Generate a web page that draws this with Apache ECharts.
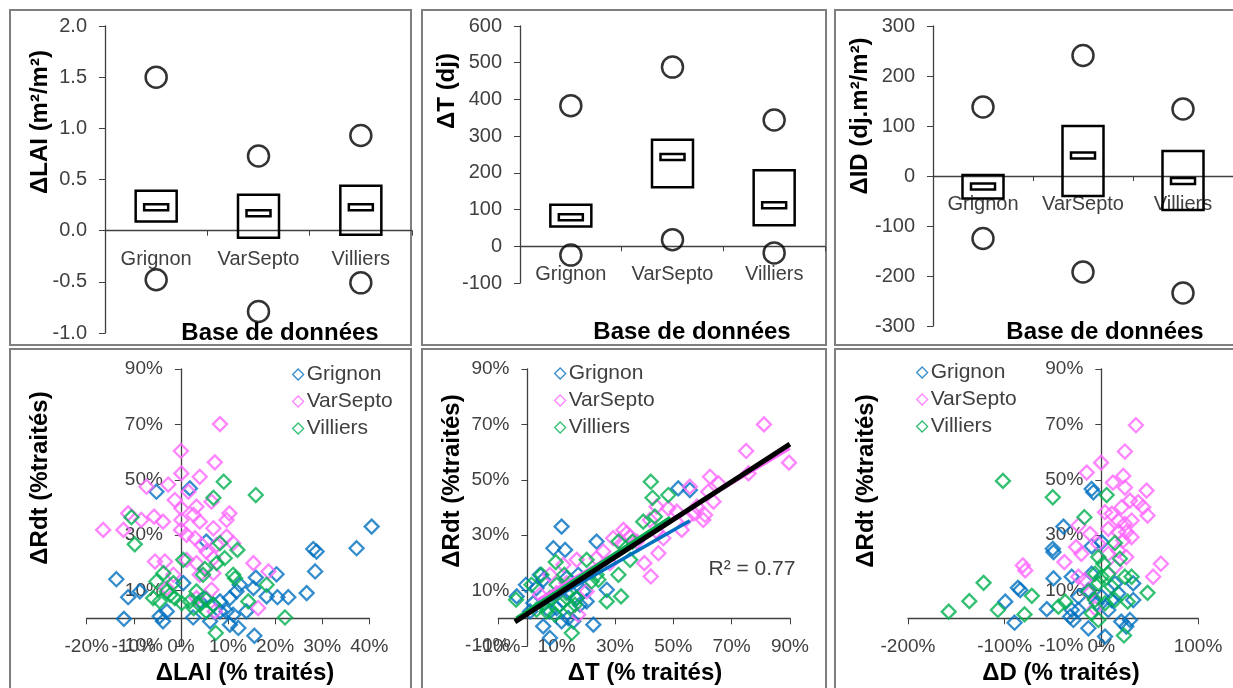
<!DOCTYPE html>
<html><head><meta charset="utf-8">
<script src="https://cdn.jsdelivr.net/npm/echarts@6/dist/echarts.min.js"></script>
<style>html,body{margin:0;padding:0;background:#fff}#c{width:1233px;height:688px}</style>
</head><body><div id="c"></div>
<script>
// ---------- data ----------
const categories = ['Grignon', 'VarSepto', 'Villiers'];
// ΔLAI (m²/m²)
const laiQ1 = [0.09, -0.07, -0.04];
const laiQ3 = [0.39, 0.35, 0.44];
const laiMed = [0.23, 0.17, 0.23];
const laiHigh = [1.50, 0.73, 0.93];
const laiLow = [-0.48, -0.79, -0.51];
// ΔT (dj)
const tQ1 = [54, 161, 57];
const tQ3 = [113, 290, 207];
const tMed = [79, 243, 112];
const tHigh = [383, 488, 344];
const tLow = [-24, 18, -18];
// ΔID (dj.m²/m²)
const idQ1 = [-45, -40, -68];
const idQ3 = [2, 100, 50];
const idMed = [-21, 41, -10];
const idHigh = [138, 241, 134];
const idLow = [-125, -192, -234];

// ΔLAI (%) vs ΔRdt (%)
const laiGrignon = [[40.5,33.1],[37.3,25.3],[28.1,25],[28.8,24.1],[28.5,16.9],[26.7,9.1],[22.8,7.6],[20.5,7.6],[20.3,15.9],[15.9,14.7],[15.4,10.9],[18.2,7.9],[12.5,12.1],[11.8,9.7],[10.4,7.3],[8.3,6.1],[5.1,7.3],[4,6.1],[6.9,4.9],[9.7,2.5],[11.1,1.3],[6.2,-1.1],[10.4,-2.3],[12.2,-3.5],[15.6,-6.3],[2.6,0.3],[-3.8,-1.1],[-4.5,0.7],[-12.1,-0.2],[-13.7,14.1],[-11.2,7.6],[-8.7,9.7],[-5.2,45.7],[1.9,46.9],[5.4,27.7],[0.5,12.7],[-3,2.5],[13.9,2.5],[8.3,2.5]];
const laiVarSepto = [[8.3,70.1],[0,60.4],[7.2,56.3],[0.1,52.3],[4,51.1],[-7.3,47.5],[-2.7,48.3],[1.6,45.7],[-1.3,42.7],[0.1,39.7],[3.3,40.3],[6.5,42.1],[-11.2,37.9],[-8.4,35.5],[-5.7,36.7],[-3.8,34.9],[0.1,35.5],[2.7,37.3],[4,34.9],[6.9,32.5],[10.3,37.9],[9.7,35.5],[-16.5,31.9],[-12.2,31.9],[0,31.9],[1.2,30.1],[3,28.9],[4.4,26.5],[5.4,24.1],[7.6,26.5],[9.7,29.5],[11.1,27.1],[-5.5,20.5],[-3.4,20.5],[1.2,21.1],[3.3,19.9],[6.9,21.7],[15.4,19.9],[18.6,16.9],[-1.6,15.7],[4,15.7],[6.5,10.3],[3.3,7.3],[7.2,2.5],[16.4,3.7],[-3,10.9],[6.9,16.3]];
const laiVilliers = [[9.1,49.3],[15.9,44.5],[6.9,43.5],[-10.5,36.5],[-9.8,26.7],[8.3,27.1],[12,24.7],[0.5,21.1],[9.3,21.7],[7.6,19.9],[-3.7,16.3],[5.1,17.8],[11.1,15.7],[11.5,14.5],[18.2,12.1],[-5.2,13.3],[-1.6,12.7],[-3,9.7],[-5.9,7.3],[-4.5,6.1],[-1.3,7.3],[0.2,5.5],[1.9,6.1],[3.3,9.7],[4,4.9],[5.4,6.7],[6.9,4.9],[4.7,15.7],[14.3,6.1],[22.1,0.3],[7.4,-5.3],[5.4,2.5],[2.7,3.7],[-2.3,8.5]];

// ΔT (%) vs ΔRdt (%)
const tGrignon = [[11.7,33.1],[8.9,25.3],[12.9,24.7],[23.7,27.7],[51.7,46.9],[55.7,46.3],[4.3,15.7],[5.4,13.9],[-0.5,12.1],[-3.7,7.9],[27.2,10.3],[19.2,9.7],[16.9,7.3],[17.4,15.7],[5.4,-2.9],[7.7,-7.1],[11.7,-1.1],[14,0.1],[15.7,-1.1],[22.6,-2.3],[12.3,6.1],[10,3.7],[7.7,2.5],[3.1,10.9],[13.4,14.5],[14.6,9.7],[18,4.9],[2,5.5],[0.9,2.5],[20.3,6.1]];
const tVarSepto = [[81.1,70],[75,60.4],[89.7,56.2],[75.8,52.3],[62.6,51.1],[55.7,47.5],[62,45.7],[65.5,48.7],[44.3,40.3],[48.3,39.7],[42,35.5],[51.2,38.5],[60.9,37.3],[63.8,42.1],[57,37.9],[58.1,40.3],[52.9,31.9],[32.9,31.9],[34,30.7],[35.2,29.5],[29.4,28.9],[44.3,31.3],[37.5,27.7],[26,24.1],[23.7,21.7],[28.3,19.9],[40.1,19.9],[42.3,15.1],[44.9,23.5],[46.6,28.9],[16.9,21.1],[12.3,19.3],[7.7,15.7],[13.4,12.7],[17.4,1.3],[20.3,9.7],[4.3,8.5],[10,9.1],[32.9,26.5],[54.6,36.1],[60.3,35.5]];
const tVilliers = [[42.3,49.3],[42.9,43.5],[48.3,44.5],[43.7,36.7],[31.2,27.7],[36.1,27.7],[35.2,21.1],[20.3,21.1],[9.7,20.3],[12.6,15.7],[4.8,15.7],[1.4,12.1],[-3.9,6.7],[31.2,15.7],[24.3,13.9],[27.2,6.1],[32.1,7.9],[10,12.1],[7.7,7.3],[5.4,4.9],[11.1,4.9],[14.6,3.7],[6.6,2.5],[9.4,1.3],[15.2,-5.3],[16.9,7.3],[13.4,9.1],[22,13.3],[3.1,3.1],[16.3,4.9],[39.7,34.9],[23.7,15.7]];
// trend lines (end points)
const trendAll = [[-4.3,-1.3],[90,62.9]];
const trendGrignon = [[-3.7,-0.4],[55.7,35.2]];
const trendVarSepto = [[3.6,6.7],[90,61.3]];
const trendVilliers = [[-3.9,0.1],[48.9,36.5]];
const r2Label = 'R² = 0.77';

// ΔD (%) vs ΔRdt (%)
const dGrignon = [[-10,46.7],[-8.3,45.5],[-39.2,33.1],[-50.2,25.1],[-49.5,23.9],[-10,26],[0.3,27.5],[-49.5,14.4],[-30.6,15],[-86.3,11],[-83.9,10.2],[-99.4,6],[-89.8,-1.6],[-56.4,3.3],[-10,16.1],[-13.4,10.2],[-23.7,7.8],[-30.6,3],[-32.3,0.6],[-28.9,-0.6],[-13.4,-3.6],[3.8,-6.6],[14.1,12.6],[17.5,9],[33,6.6],[33,12.6],[29.6,-0.6],[20.6,-1.2],[25.8,-3],[7.2,3],[0.3,7.8],[-4.8,5.4],[10.7,6.6],[-23.7,3]];
const dVarSepto = [[35.8,69.7],[24.4,60.2],[-0.3,56.2],[-15.1,52.6],[22.7,51.4],[12,49],[46.8,46.1],[24.4,47.2],[38.2,41.9],[29.6,42.5],[43.3,40.1],[47.8,37.1],[3.8,38.3],[10.7,37.7],[21,40.1],[17.5,35.3],[24.4,34.1],[31.3,35.3],[7.2,32.3],[17.5,31.1],[25.8,31.1],[31.3,29.3],[-23.7,33.5],[-11.7,30.5],[-26.1,25.7],[-20.7,23.3],[-38.2,20.3],[-81.2,19.1],[-78.7,17.3],[61.6,19.7],[53.6,15],[25.8,22.1],[14.1,18.5],[-23.7,15],[-16.9,13.8],[-12.4,9],[-6.5,3.6],[17.5,24.5],[-3.1,26.9],[7.2,23.3],[22.7,28.1]];
const dVilliers = [[-101.8,49.6],[-50.2,43.7],[5.5,44.5],[-17.5,36.5],[-157.9,2.4],[-136.6,6.2],[-121.8,12.8],[-107,3],[-79.5,1.4],[-71.9,8.1],[-44.4,4.2],[-37.5,6],[14.1,27.2],[19.3,21.5],[-3.1,22.1],[2.1,19.7],[-6.5,16.1],[0.3,15],[7.2,16.1],[-3.1,12.6],[24.4,15],[31.3,15],[47.8,9.2],[-6.5,6.6],[3.8,5.4],[14.1,6.6],[27.2,6],[-3.1,-0.6],[23.4,-6.2],[-10,1.8],[10.7,11.4],[-13.4,9.6]];

// ---------- style ----------
const FONT = '"Liberation Sans", Arial, sans-serif';
const AX = '#404040';
const COL = {Grignon: '#0070C0', VarSepto: '#FF66FF', Villiers: '#00B050'};

function boxRender(params, api) {
  const c = api.value(0);
  const lo = api.coord([c, api.value(1)]);
  const hi = api.coord([c, api.value(2)]);
  const md = api.coord([c, api.value(3)]);
  const w = 41, mw = 24, mh = 6;
  return {type: 'group', children: [
    {type: 'rect', shape: {x: lo[0] - w / 2, y: hi[1], width: w, height: lo[1] - hi[1]},
     style: {fill: 'none', stroke: '#000', lineWidth: 2.5}},
    {type: 'rect', shape: {x: md[0] - mw / 2, y: md[1] - mh / 2, width: mw, height: mh},
     style: {fill: '#fff', stroke: '#000', lineWidth: 2.5}}
  ]};
}

const grids = [
  {left: 105, top: 26, width: 307, height: 307},
  {left: 520, top: 26, width: 305, height: 257},
  {left: 933, top: 26, width: 300, height: 300},
  {left: 86.7, top: 369, width: 282.6, height: 277},
  {left: 498.3, top: 369, width: 291.6, height: 277},
  {left: 908, top: 369, width: 290, height: 277}
];
// ranges of the value axes
const yRange = [[-1, 2, 0.5], [-100, 600, 100], [-300, 300, 100], [-10, 90, 20], [-10, 90, 20], [-10, 90, 20]];
const xRange = [null, null, null, [-20, 40, 10], [-10, 90, 20], [-200, 100, 100]];

// pixel distance from the grid edge to the value 0 of an axis (axis crossing at zero)
function zeroOffset(len, r) { return -len * (0 - r[0]) / (r[1] - r[0]); }

const axisLineStyle = {lineStyle: {color: AX, width: 1.3}};
function catX(gi, margin) {
  return {type: 'category', gridIndex: gi, data: categories, boundaryGap: true, position: 'bottom',
    offset: zeroOffset(grids[gi].height, yRange[gi]),
    axisLine: Object.assign({onZero: false}, axisLineStyle),
    axisTick: {show: true, length: 5, lineStyle: {color: AX}},
    axisLabel: {fontFamily: FONT, fontSize: 20, color: AX, margin: margin, interval: 0, hideOverlap: false},
    splitLine: {show: false}};
}
function valY(gi, fmt) {
  const r = yRange[gi];
  return {type: 'value', gridIndex: gi, min: r[0], max: r[1], interval: r[2], position: 'left',
    axisLine: Object.assign({show: true, onZero: false}, axisLineStyle),
    axisTick: {show: true, length: 6, lineStyle: {color: AX}},
    axisLabel: {fontFamily: FONT, fontSize: 20, color: AX, margin: 18, formatter: fmt},
    splitLine: {show: false}};
}
const pct = v => Math.round(v) + '%';
function pctX(gi) {
  const r = xRange[gi];
  return {type: 'value', gridIndex: gi, min: r[0], max: r[1], interval: r[2], position: 'bottom',
    offset: zeroOffset(grids[gi].height, yRange[gi]),
    axisLine: Object.assign({show: true, onZero: false}, axisLineStyle),
    axisTick: {show: true, length: 6, lineStyle: {color: AX}},
    axisLabel: {fontFamily: FONT, fontSize: 19, color: AX, margin: 19, formatter: pct, hideOverlap: false},
    splitLine: {show: false}};
}
function pctY(gi) {
  const r = yRange[gi];
  return {type: 'value', gridIndex: gi, min: r[0], max: r[1], interval: r[2], position: 'left',
    offset: zeroOffset(grids[gi].width, xRange[gi]),
    axisLine: Object.assign({show: true, onZero: false}, axisLineStyle),
    axisTick: {show: true, length: 6, lineStyle: {color: AX}},
    axisLabel: {fontFamily: FONT, fontSize: 19, color: AX, margin: 18, formatter: pct, hideOverlap: false},
    splitLine: {show: false}};
}

const series = [];
function addTop(gi, q1, q3, med, high, low) {
  series.push({type: 'custom', xAxisIndex: gi, yAxisIndex: gi, renderItem: boxRender,
    encode: {x: 0, y: [1, 2, 3]}, z: 3,
    data: categories.map((c, i) => [i, q1[i], q3[i], med[i]])});
  [high, low].forEach(arr => series.push({type: 'scatter', xAxisIndex: gi, yAxisIndex: gi,
    symbol: 'circle', symbolSize: 21, z: 3,
    itemStyle: {color: 'rgba(0,0,0,0)', borderColor: '#000', borderWidth: 2.5},
    data: categories.map((c, i) => [i, arr[i]])}));
}
addTop(0, laiQ1, laiQ3, laiMed, laiHigh, laiLow);
addTop(1, tQ1, tQ3, tMed, tHigh, tLow);
addTop(2, idQ1, idQ3, idMed, idHigh, idLow);

function addScatter(gi, name, data) {
  series.push({type: 'scatter', name: name, xAxisIndex: gi, yAxisIndex: gi,
    symbol: 'diamond', symbolSize: 14, z: 3, clip: false,
    itemStyle: {color: 'rgba(255,255,255,0)', borderColor: COL[name], borderWidth: 2.3},
    data: data});
}
function addLine(gi, color, width, data) {
  series.push({type: 'line', xAxisIndex: gi, yAxisIndex: gi, showSymbol: false, symbol: 'none',
    z: 5, lineStyle: {color: color, width: width}, data: data, silent: true});
}
addScatter(3, 'Grignon', laiGrignon);
addScatter(3, 'VarSepto', laiVarSepto);
addScatter(3, 'Villiers', laiVilliers);
addScatter(4, 'Grignon', tGrignon);
addScatter(4, 'VarSepto', tVarSepto);
addScatter(4, 'Villiers', tVilliers);
addLine(4, COL.VarSepto, 3, trendVarSepto);
addLine(4, COL.Grignon, 3.5, trendGrignon);
addLine(4, COL.Villiers, 3, trendVilliers);
addLine(4, '#000', 5, trendAll);
addScatter(5, 'Grignon', dGrignon);
addScatter(5, 'VarSepto', dVarSepto);
addScatter(5, 'Villiers', dVilliers);

function legendAt(left, top) {
  return {left: left, top: top, orient: 'vertical', itemWidth: 11, itemHeight: 11, itemGap: 6,
    data: categories, selectedMode: false,
    itemStyle: {borderWidth: 1.3},
    textStyle: {fontFamily: FONT, fontSize: 21, color: AX, lineHeight: 21, padding: [0, 0, 0, -2]}};
}

function txt(x, y, text, size, bold, rot) {
  return {type: 'text', x: x, y: y, rotation: rot || 0, z: 10,
    style: {text: text, font: (bold ? 'bold ' : '') + size + 'px ' + FONT, fill: bold ? '#000' : AX,
      align: 'center', verticalAlign: 'middle', textAlign: 'center', textVerticalAlign: 'middle'}};
}
function frame(x, y, w, h) {
  return {type: 'rect', shape: {x: x, y: y, width: w, height: h}, z: 0,
    style: {fill: 'none', stroke: '#7f7f7f', lineWidth: 2}};
}
const R = Math.PI / 2;
const graphic = [
  frame(10, 10, 401, 335), frame(422, 10, 404, 335), frame(835, 10, 410, 335),
  frame(10, 349, 401, 350), frame(422, 349, 404, 350), frame(835, 349, 410, 350),
  txt(280, 333, 'Base de données', 24, true),
  txt(692, 332, 'Base de données', 24, true),
  txt(1105, 332, 'Base de données', 24, true),
  txt(40, 122, 'ΔLAI (m²/m²)', 24, true, R),
  txt(447, 91, 'ΔT (dj)', 24, true, R),
  txt(860, 116, 'ΔID (dj.m²/m²)', 24, true, R),
  txt(40, 478, 'ΔRdt (%traités)', 24, true, R),
  txt(452, 481, 'ΔRdt (%traités)', 24, true, R),
  txt(866, 481, 'ΔRdt (%traités)', 24, true, R),
  txt(245, 673, 'ΔLAI (% traités)', 24, true),
  txt(645, 673, 'ΔT (% traités)', 24, true),
  txt(1061, 673, 'ΔD (% traités)', 24, true),
  txt(752, 569, r2Label, 21, false)
];

const chart = echarts.init(document.getElementById('c'), null, {renderer: 'canvas'});
chart.setOption({
  animation: false,
  backgroundColor: '#fff',
  grid: grids,
  xAxis: [catX(0, 19), catX(1, 18), catX(2, 18), pctX(3), pctX(4), pctX(5)],
  yAxis: [
    valY(0, v => v.toFixed(1)),
    valY(1, v => String(Math.round(v))),
    valY(2, v => String(Math.round(v))),
    pctY(3), pctY(4), pctY(5)
  ],
  legend: [legendAt(287, 359), legendAt(549, 358), legendAt(911, 357)],
  series: series,
  graphic: graphic
});
</script>
</body></html>
